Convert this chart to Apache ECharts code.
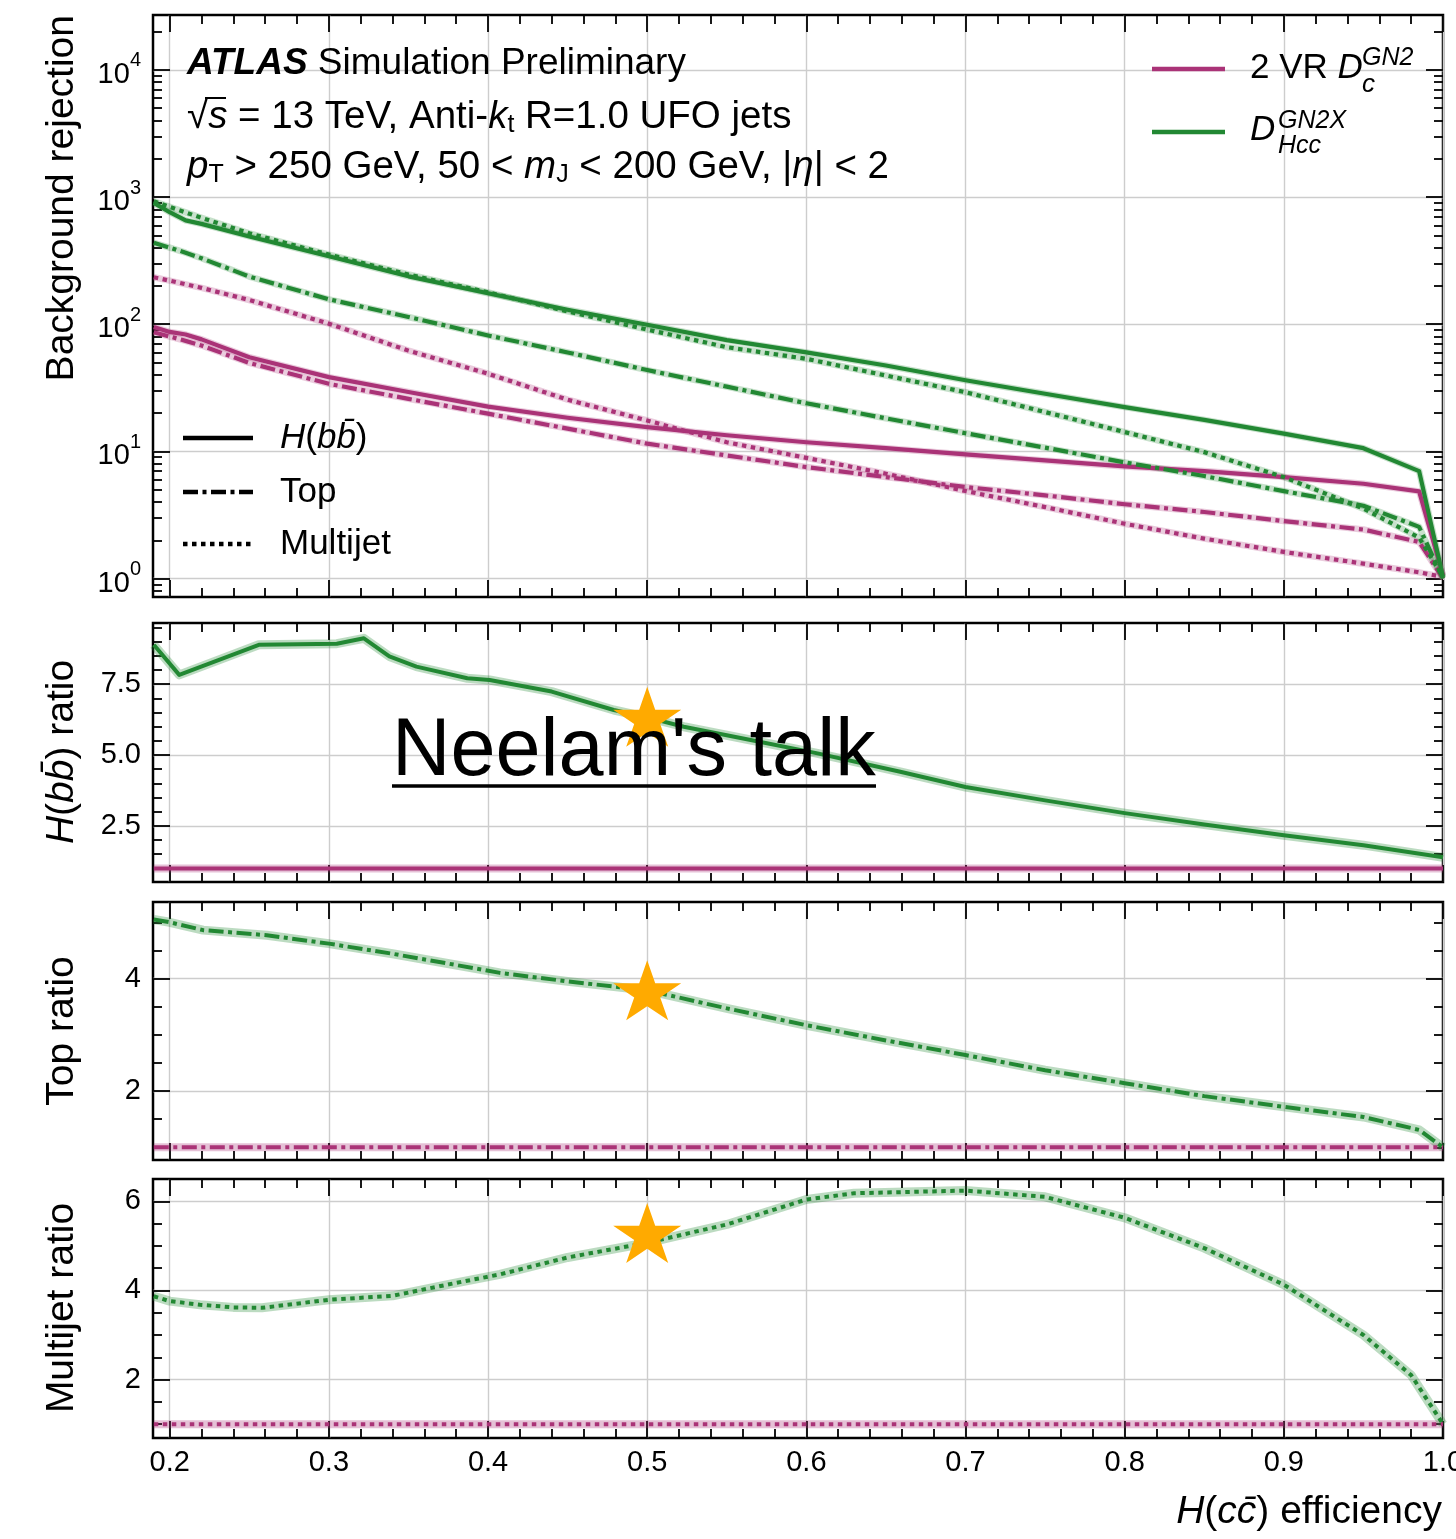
<!DOCTYPE html>
<html>
<head>
<meta charset="utf-8">
<title>H(cc) tagging: background rejection vs efficiency</title>
<script src="https://cdn.jsdelivr.net/npm/echarts@6/dist/echarts.min.js"></script>
<style>
html,body{margin:0;padding:0;background:#fff;}
#chart{width:1456px;height:1539px;}
</style>
</head>
<body>
<div id="chart"></div>
<script>
const FONT = '"Liberation Sans", Arial, Helvetica, sans-serif';
const GREEN = '#228833';
const PURPLE = '#AA3377';
const STAR = '#FFAA00';
const DASHDOT = [15, 4.5, 4, 4.5];
const DOTTED = [4.5, 4.5];

// ---- background rejection curves (top panel) ----
const effRej = [0.19, 0.2, 0.21, 0.22, 0.25, 0.3, 0.35, 0.4, 0.45, 0.5, 0.55, 0.6, 0.65, 0.7, 0.75, 0.8, 0.85, 0.9, 0.95, 0.985, 1.0];
const rejGN2X_Hbb   = [900, 760, 655, 615, 490, 342, 238, 175, 130, 99, 75, 60, 47.4, 36.3, 28.4, 22.3, 17.7, 13.8, 10.6, 7.0, 1.03];
const rejVR_Hbb     = [95, 87, 83, 76, 55, 38.4, 29.3, 22.5, 18.4, 15.5, 13.4, 11.8, 10.6, 9.47, 8.49, 7.62, 7.0, 6.28, 5.57, 4.85, 1.06];
const rejGN2X_Top   = [437, 400, 365, 330, 237, 157, 114, 81.6, 60, 43.6, 32.3, 23.9, 18.2, 13.9, 10.7, 8.2, 6.4, 4.87, 3.74, 2.55, 1.0];
const rejVR_Top     = [86.5, 80, 74, 68, 49.6, 34, 25.9, 19.8, 15.1, 11.5, 9.3, 7.53, 6.28, 5.25, 4.51, 3.84, 3.34, 2.83, 2.43, 1.94, 1.0];
const rejGN2X_Multi = [925, 837, 757, 686, 519, 353, 246, 178, 126, 90.8, 66, 53.5, 39.5, 29.2, 20.4, 14.2, 9.87, 6.28, 3.55, 2.1, 1.03];
const rejVR_Multi   = [234, 220, 206, 193, 155, 101, 62, 40.8, 25.5, 17.5, 11.8, 8.9, 6.68, 4.88, 3.65, 2.70, 2.06, 1.62, 1.31, 1.12, 1.03];

// ---- ratio panels (GN2X / 2 VR) ----
const effHbbRatio = [0.19, 0.206, 0.256, 0.305, 0.322, 0.338, 0.355, 0.387, 0.401, 0.44, 0.479, 0.5, 0.523, 0.565, 0.607, 0.659, 0.7, 0.75, 0.8, 0.85, 0.9, 0.95, 1.0];
const hbbRatio    = [8.89, 7.83, 8.89, 8.93, 9.12, 8.48, 8.12, 7.71, 7.65, 7.24, 6.59, 6.33, 6.0, 5.53, 5.06, 4.41, 3.87, 3.4, 2.95, 2.55, 2.17, 1.82, 1.39];
const effTopRatio = [0.19, 0.2, 0.221, 0.261, 0.3, 0.34, 0.38, 0.4075, 0.45, 0.5, 0.55, 0.6, 0.65, 0.7, 0.75, 0.8, 0.85, 0.9, 0.95, 0.985, 1.0];
const topRatio    = [5.05, 5.0, 4.86, 4.77, 4.62, 4.44, 4.24, 4.1, 3.95, 3.79, 3.47, 3.17, 2.9, 2.64, 2.37, 2.14, 1.91, 1.72, 1.54, 1.31, 1.0];
const effMjRatio  = [0.19, 0.2, 0.219, 0.24, 0.258, 0.3, 0.34, 0.38, 0.4075, 0.45, 0.5, 0.55, 0.6, 0.63, 0.7, 0.75, 0.8, 0.85, 0.9, 0.95, 0.98, 1.0];
const mjRatio     = [3.87, 3.76, 3.68, 3.62, 3.61, 3.79, 3.88, 4.17, 4.36, 4.74, 5.07, 5.48, 6.04, 6.18, 6.24, 6.1, 5.63, 4.95, 4.13, 3.0, 2.1, 1.0];
const effRef = [0.19, 1.0];
const refRatio = [1, 1];

// highlighted working point (one per ratio panel)
const starEff = [0.5, 0.5, 0.5];
const starVal = [6.35, 3.79, 5.29];

// ---- axis ticks ----
const xMin = 0.1895, xMax = 1.0;
const xTicks = [0.2, 0.3, 0.4, 0.5, 0.6, 0.7, 0.8, 0.9, 1.0];
const xMinorTicks = [0.22,0.24,0.26,0.28,0.32,0.34,0.36,0.38,0.42,0.44,0.46,0.48,0.52,0.54,0.56,0.58,0.62,0.64,0.66,0.68,0.72,0.74,0.76,0.78,0.82,0.84,0.86,0.88,0.92,0.94,0.96,0.98];
const rejTicks = [1, 10, 100, 1000, 10000];
const rejMinorTicks = [0.8,0.9,2,3,4,5,6,7,8,9,20,30,40,50,60,70,80,90,200,300,400,500,600,700,800,900,2000,3000,4000,5000,6000,7000,8000,9000,20000];
const hbbTicks = [2.5, 5.0, 7.5];
const hbbMinorTicks = [1,1.5,2,3,3.5,4,4.5,5.5,6,6.5,7,8,8.5,9,9.5];
const topTicks = [2, 4];
const topMinorTicks = [1,1.5,2.5,3,3.5,4.5,5];
const mjTicks = [2, 4, 6];
const mjMinorTicks = [1,1.5,2.5,3,3.5,4.5,5,5.5];

const panels = [
  {top: 15,   height: 582, log: true, min: 0.7165, max: 27000, major: rejTicks, minor: rejMinorTicks},
  {top: 623,  height: 259, min: 0.52,  max: 9.66, major: hbbTicks, minor: hbbMinorTicks, fmt: v => v.toFixed(1)},
  {top: 902,  height: 258, min: 0.775, max: 5.36, major: topTicks, minor: topMinorTicks, fmt: v => String(v)},
  {top: 1179, height: 259, min: 0.69,  max: 6.5,  major: mjTicks,  minor: mjMinorTicks,  fmt: v => String(v)}
];

const tickLine = {color: '#000', width: 1.8};
const labelBase = {color: '#000', fontFamily: FONT, fontSize: 29};

const grids = panels.map(p => ({
  left: 153, width: 1290, top: p.top, height: p.height,
  show: true, borderColor: '#000', borderWidth: 2.5, backgroundColor: 'transparent',
  containLabel: false, outerBoundsMode: 'none'
}));

const xAxes = [], yAxes = [];
panels.forEach((pc, p) => {
  // x: bottom major, bottom minor, top major, top minor
  ['bottom', 'top'].forEach((side, s) => {
    const primary = s === 0;
    xAxes.push({
      gridIndex: p, type: 'value', position: side, min: xMin, max: xMax,
      axisLine: {show: false, onZero: false},
      axisTick: {show: true, inside: true, length: 17, customValues: xTicks, lineStyle: tickLine},
      axisLabel: (primary && p === 3)
        ? Object.assign({show: true, margin: 10, customValues: xTicks, formatter: v => v.toFixed(1)}, labelBase)
        : {show: false},
      splitLine: {show: primary, lineStyle: {color: '#cdcdcd', width: 1.4}}
    });
    xAxes.push({
      gridIndex: p, type: 'value', position: side, min: xMin, max: xMax,
      axisLine: {show: false, onZero: false},
      axisTick: {show: true, inside: true, length: 9, customValues: xMinorTicks, lineStyle: tickLine},
      axisLabel: {show: false}, splitLine: {show: false}
    });
  });
  // y: left major, left minor, right major, right minor
  ['left', 'right'].forEach((side, s) => {
    const primary = s === 0;
    const base = pc.log
      ? {type: 'log', logBase: 10, min: pc.min, max: pc.max}
      : {type: 'value', min: pc.min, max: pc.max};
    let label = {show: false};
    if (primary) {
      label = Object.assign({show: true, margin: 12, customValues: pc.major}, labelBase);
      if (pc.log) {
        label.formatter = v => '{b|10}{s|' + Math.round(Math.log10(v)) + '}';
        label.rich = {
          b: {color: '#000', fontFamily: FONT, fontSize: 29, lineHeight: 36, padding: [10, 0, 0, 0]},
          s: {color: '#000', fontFamily: FONT, fontSize: 20, lineHeight: 36, padding: [0, 0, 18, 0]}
        };
      } else {
        label.formatter = pc.fmt;
      }
    }
    yAxes.push(Object.assign({
      gridIndex: p, position: side,
      axisLine: {show: false, onZero: false},
      axisTick: {show: true, inside: true, length: 17, customValues: pc.major, lineStyle: tickLine},
      axisLabel: label,
      splitLine: {show: primary, lineStyle: {color: '#cdcdcd', width: 1.4}}
    }, base));
    yAxes.push(Object.assign({
      gridIndex: p, position: side,
      axisLine: {show: false, onZero: false},
      axisTick: {show: true, inside: true, length: 9, customValues: pc.minor, lineStyle: tickLine},
      axisLabel: {show: false}, splitLine: {show: false}
    }, base));
  });
});

const series = [];
function addCurve(p, xs, ys, color, dash, width, band, bandOpacity) {
  const data = xs.map((x, i) => [x, ys[i]]);
  if (band) {
    series.push({type: 'line', xAxisIndex: 4 * p, yAxisIndex: 4 * p, data, symbol: 'none', silent: true,
      lineStyle: {color, width: band, opacity: bandOpacity || 0.3, join: 'round'}, z: 1});
  }
  series.push({type: 'line', xAxisIndex: 4 * p, yAxisIndex: 4 * p, data, symbol: 'none', silent: true,
    lineStyle: {color, width, type: dash, cap: 'butt', join: 'round'}, z: 2});
}

// rejection panel
addCurve(0, effRej, rejVR_Hbb, PURPLE, 'solid', 4.2, 6.5, 0.25);
addCurve(0, effRej, rejVR_Top, PURPLE, DASHDOT, 4.2, 6.5, 0.25);
addCurve(0, effRej, rejVR_Multi, PURPLE, DOTTED, 4.2, 6.5, 0.25);
addCurve(0, effRej, rejGN2X_Hbb, GREEN, 'solid', 4.2, 6.5, 0.25);
addCurve(0, effRej, rejGN2X_Top, GREEN, DASHDOT, 4.2, 6.5, 0.25);
addCurve(0, effRej, rejGN2X_Multi, GREEN, DOTTED, 4.2, 6.5, 0.25);

// ratio panels
addCurve(1, effRef, refRatio, PURPLE, 'solid', 4.0, 8);
addCurve(1, effHbbRatio, hbbRatio, GREEN, 'solid', 4.0, 9);
addCurve(2, effRef, refRatio, PURPLE, DASHDOT, 4.0, 8);
addCurve(2, effTopRatio, topRatio, GREEN, DASHDOT, 4.0, 9);
addCurve(3, effRef, refRatio, PURPLE, DOTTED, 4.0, 8);
addCurve(3, effMjRatio, mjRatio, GREEN, DOTTED, 4.0, 9);

const starPath = 'path://M50 0 L61.226 34.549 L97.553 34.549 L68.164 55.902 L79.389 90.451 L50 69.098 L20.611 90.451 L31.836 55.902 L2.447 34.549 L38.774 34.549 Z';
starEff.forEach((x, i) => {
  series.push({type: 'scatter', xAxisIndex: 4 * (i + 1), yAxisIndex: 4 * (i + 1), silent: true,
    data: [[x, starVal[i]]], symbol: starPath, symbolSize: [68, 60],
    itemStyle: {color: STAR, opacity: 1}, z: 10});
});

// ---- text helpers ----
function rs(size, extra) {
  return Object.assign({fontFamily: FONT, fontSize: size, fill: '#000', lineHeight: 46}, extra || {});
}
function richSet(size) {
  const sub = Math.round(size * 0.66);
  return {
    n: rs(size),
    i: rs(size, {fontStyle: 'italic'}),
    a: rs(size, {fontStyle: 'italic', fontWeight: 'bold'}),
    sb: rs(sub, {padding: [17, 0, 0, 0]})
  };
}
function text(x, y, str, opts) {
  opts = opts || {};
  const size = opts.size || 38;
  return {
    type: 'text', x, y, z: 100, silent: true, rotation: opts.rotation || 0,
    style: {
      text: str, fill: '#000', fontFamily: FONT, fontSize: size,
      fontStyle: opts.italic ? 'italic' : 'normal',
      align: opts.align || 'left', verticalAlign: 'middle',
      rich: opts.rich || richSet(size)
    }
  };
}
function legendLine(x1, x2, y, color, dash) {
  return {type: 'line', z: 100, silent: true, shape: {x1, y1: y, x2, y2: y},
    style: {stroke: color, lineWidth: 4.5, lineDash: dash || null, lineCap: 'butt'}};
}
const richTitle = {
  n: rs(39),
  i: rs(39, {fontStyle: 'italic'})
};
const richLeg = {
  n: rs(35),
  i: rs(35, {fontStyle: 'italic'})
};

const graphics = [
  // experiment label
  text(187, 64, '{a|ATLAS}{n| Simulation Preliminary}', {size: 37}),
  text(187, 117, '{n|\u221A}{i|s}{n| = 13 TeV, Anti-}{i|k}{sb|t}{n| R=1.0 UFO jets}', {size: 38.5}),
  text(187, 167, '{i|p}{sb|T}{n| > 250 GeV, 50 < }{i|m}{sb|J}{n| < 200 GeV, |}{i|\u03B7}{n|| < 2}', {size: 38.5}),
  // vinculum of the square root
  {type: 'line', z: 100, silent: true, shape: {x1: 205, y1: 98, x2: 226, y2: 98}, style: {stroke: '#000', lineWidth: 2}},

  // tagger legend
  legendLine(1152, 1225, 69, PURPLE),
  text(1250, 68, '{n|2 VR }{i|D}', {rich: richLeg}),
  text(1362, 58, 'GN2', {size: 25, italic: true}),
  text(1362, 85, 'c', {size: 26, italic: true}),
  legendLine(1152, 1225, 132, GREEN),
  text(1250, 130, '{i|D}', {rich: richLeg}),
  text(1278, 121, 'GN2X', {size: 25, italic: true}),
  text(1278, 146, 'Hcc', {size: 25, italic: true}),

  // background legend
  legendLine(183, 253, 438, '#000'),
  text(280, 438, '{i|H}{n|(}{i|bb\u0304}{n|)}', {rich: richLeg}),
  legendLine(183, 253, 492, '#000', DASHDOT),
  text(280, 492, '{n|Top}', {rich: richLeg}),
  legendLine(183, 253, 544, '#000', DOTTED),
  text(280, 544, '{n|Multijet}', {rich: richLeg}),

  // axis titles
  text(62, 15, '{n|Background rejection}', {rotation: Math.PI / 2, align: 'right', rich: richTitle}),
  text(62, 752, '{i|H}{n|(}{i|bb\u0304}{n|) ratio}', {rotation: Math.PI / 2, align: 'center', rich: richTitle}),
  text(62, 1031, '{n|Top ratio}', {rotation: Math.PI / 2, align: 'center', rich: richTitle}),
  text(62, 1308, '{n|Multijet ratio}', {rotation: Math.PI / 2, align: 'center', rich: richTitle}),
  text(1442, 1512, '{i|H}{n|(}{i|cc\u0304}{n|) efficiency}', {align: 'right', rich: richTitle}),

  // talk annotation
  {type: 'text', x: 392, y: 753, z: 110, silent: true,
    style: {text: "Neelam's talk", fill: '#000', fontFamily: FONT, fontSize: 81, align: 'left', verticalAlign: 'middle'}},
  {type: 'line', z: 110, silent: true, shape: {x1: 392, y1: 786, x2: 876, y2: 786},
    style: {stroke: '#000', lineWidth: 3.5}}
];

const chart = echarts.init(document.getElementById('chart'), null, {renderer: 'canvas'});
chart.setOption({
  animation: false,
  backgroundColor: '#fff',
  grid: grids,
  xAxis: xAxes,
  yAxis: yAxes,
  series: series,
  graphic: graphics
});
</script>
</body>
</html>
